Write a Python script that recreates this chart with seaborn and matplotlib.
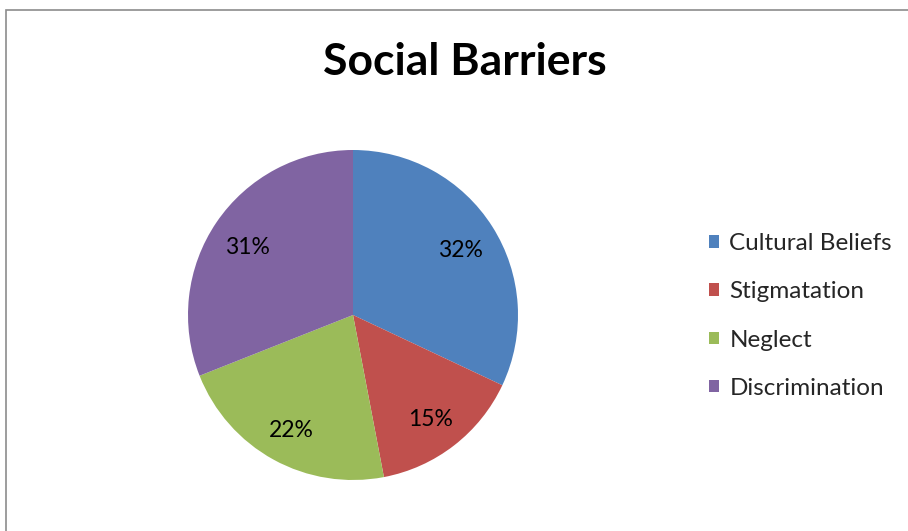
import matplotlib
matplotlib.use("Agg")
import matplotlib.pyplot as plt
from matplotlib.patches import Rectangle, Patch
from matplotlib.transforms import offset_copy
import seaborn as sns

title = "Social Barriers"
categories = ["Cultural Beliefs", "Stigmatation", "Neglect", "Discrimination"]
shares = [32, 15, 22, 31]
colors = ["#4F81BD", "#C0504D", "#9BBB59", "#8064A2"]

sns.set_theme(style="white")
plt.rcParams["font.family"] = ["Lato", "DejaVu Sans"]

W, H = 908, 531
fig = plt.figure(figsize=(W / 100, H / 100), dpi=100)
fig.patch.set_facecolor("white")

# chart-area frame
fig.patches.append(Rectangle((6 / W, -0.1), 1.2, (H - 10) / H + 0.1,
                             transform=fig.transFigure, fill=False,
                             edgecolor="#8c8c8c", linewidth=1.2))

# pie axes: centre (353, 315) px, radius 165 px
cx, cy, r = 353, 315, 165
ax = fig.add_axes([(cx - r) / W, (H - cy - r) / H, 2 * r / W, 2 * r / H])
wedges, _, autotexts = ax.pie(
    shares, colors=colors, startangle=90, counterclock=False,
    autopct="%1.0f%%", pctdistance=0.77, radius=1.0,
    wedgeprops=dict(linewidth=0), textprops=dict(fontsize=16.5, color="black"))
ax.set_xlim(-1, 1)
ax.set_ylim(-1, 1)
ax.set_aspect("auto")
ax.axis("off")

# nudge the percentage labels down slightly so they sit optically centred
for t in autotexts:
    t.set_transform(offset_copy(ax.transData, fig=fig, x=0, y=-4, units="dots"))

fig.text(465 / W, 1 - 62 / H, title, ha="center", va="center",
         fontsize=32, fontweight="bold", color="black")

handles = [Patch(facecolor=c, edgecolor="none") for c in colors]
fig.legend(handles, categories, loc="center left",
           bbox_to_anchor=(709 / W, 1 - 316 / H), frameon=False,
           fontsize=17.5, handlelength=0.42, handleheight=0.42,
           handletextpad=0.42, labelspacing=1.12, borderpad=0, borderaxespad=0)

fig.savefig("out.png", dpi=100)
